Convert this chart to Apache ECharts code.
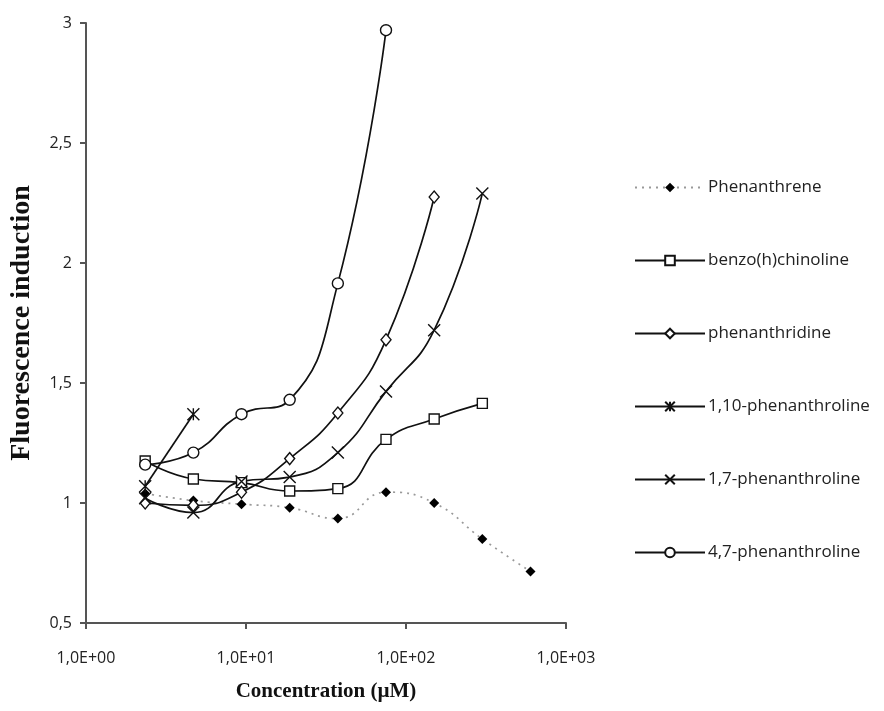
<!DOCTYPE html>
<html><head><meta charset="utf-8">
<script src="https://cdn.jsdelivr.net/npm/echarts@6/dist/echarts.min.js"></script>
<style>html,body{margin:0;padding:0;background:#fff}#c{width:884px;height:711px}</style>
</head><body><div id="c"></div>
<script>
const concentrations = [2.34375, 4.6875, 9.375, 18.75, 37.5, 75, 150, 300, 600];
const phenanthrene = [1.04, 1.01, 0.995, 0.98, 0.935, 1.045, 1.0, 0.85, 0.715];
const benzoHChinoline = [1.175, 1.10, 1.085, 1.05, 1.06, 1.265, 1.35, 1.415];
const phenanthridine = [1.0, 0.99, 1.045, 1.185, 1.375, 1.68, 2.275];
const phen110 = [1.07, 1.37];
const phen17 = [1.02, 0.96, 1.09, 1.108, 1.21, 1.465, 1.72, 2.29];
const phen47 = [1.16, 1.21, 1.37, 1.43, 1.915, 2.97];
const seriesNames = ['Phenanthrene', 'benzo(h)chinoline', 'phenanthridine', '1,10-phenanthroline', '1,7-phenanthroline', '4,7-phenanthroline'];
const xTickLabels = ['1,0E+00', '1,0E+01', '1,0E+02', '1,0E+03'];
const yTickLabels = ['0,5', '1', '1,5', '2', '2,5', '3'];

function pairs(vals) { return vals.map((v, i) => [concentrations[i], v]); }

const INK = '#111';
const openStyle = { color: '#fff', borderColor: INK, borderWidth: 1.4 };
function solidSeries(name, vals, symbol, size) {
  return {
    name: name, type: 'line', smooth: true, data: pairs(vals),
    symbol: symbol, symbolSize: size,
    lineStyle: { color: INK, width: 1.7 },
    itemStyle: openStyle
  };
}

const series = [
  {
    name: seriesNames[0], type: 'line', smooth: true, data: pairs(phenanthrene),
    symbol: 'diamond', symbolSize: 10,
    lineStyle: { color: '#999', width: 1.7, type: [2, 5] },
    itemStyle: { color: '#000', borderColor: '#000', borderWidth: 0 }
  },
  solidSeries(seriesNames[1], benzoHChinoline, 'rect', 10),
  solidSeries(seriesNames[2], phenanthridine, 'diamond', [10, 12]),
  solidSeries(seriesNames[3], phen110, 'path://M0,0L10,10M10,0L0,10M5,0L5,10', 12),
  solidSeries(seriesNames[4], phen17, 'path://M0,0L10,10M10,0L0,10', 12),
  solidSeries(seriesNames[5], phen47, 'circle', 11)
];

const chart = echarts.init(document.getElementById('c'));
chart.setOption({
  animation: false,
  backgroundColor: '#fff',
  grid: { left: 86, right: 318, top: 23, bottom: 88, containLabel: false },
  legend: {
    orient: 'vertical', left: 629, top: 174,
    itemWidth: 70, itemHeight: 12, itemGap: 56, padding: 5,
    data: seriesNames,
    textStyle: { fontFamily: 'Open Sans', fontSize: 17, color: '#222', lineHeight: 17, padding: [0, 0, 0, -2] }
  },
  xAxis: {
    type: 'log', logBase: 10, min: 1, max: 1000,
    name: 'Concentration (µM)', nameLocation: 'middle', nameGap: 58,
    nameTextStyle: { fontFamily: 'Liberation Serif', fontWeight: 'bold', fontSize: 21, color: '#111' },
    axisLine: { lineStyle: { color: '#555', width: 2 } },
    axisTick: { show: true, inside: false, length: 6, lineStyle: { color: '#555', width: 2 } },
    minorTick: { show: false },
    splitLine: { show: false },
    axisLabel: {
      margin: 27, fontFamily: 'Open Sans', fontSize: 16, color: '#222',
      formatter: v => xTickLabels[Math.round(Math.log10(v))]
    }
  },
  yAxis: {
    type: 'value', min: 0.5, max: 3, interval: 0.5,
    name: 'Fluorescence induction', nameLocation: 'middle', nameGap: 50,
    nameTextStyle: { fontFamily: 'Liberation Serif', fontWeight: 'bold', fontSize: 28, color: '#111' },
    axisLine: { show: true, lineStyle: { color: '#555', width: 2 } },
    axisTick: { show: true, inside: false, length: 6, lineStyle: { color: '#555', width: 2 } },
    splitLine: { show: false },
    axisLabel: {
      margin: 14, fontFamily: 'Open Sans', fontSize: 16, color: '#222',
      formatter: v => yTickLabels[Math.round((v - 0.5) / 0.5)]
    }
  },
  series: series
});
</script>
</body></html>
